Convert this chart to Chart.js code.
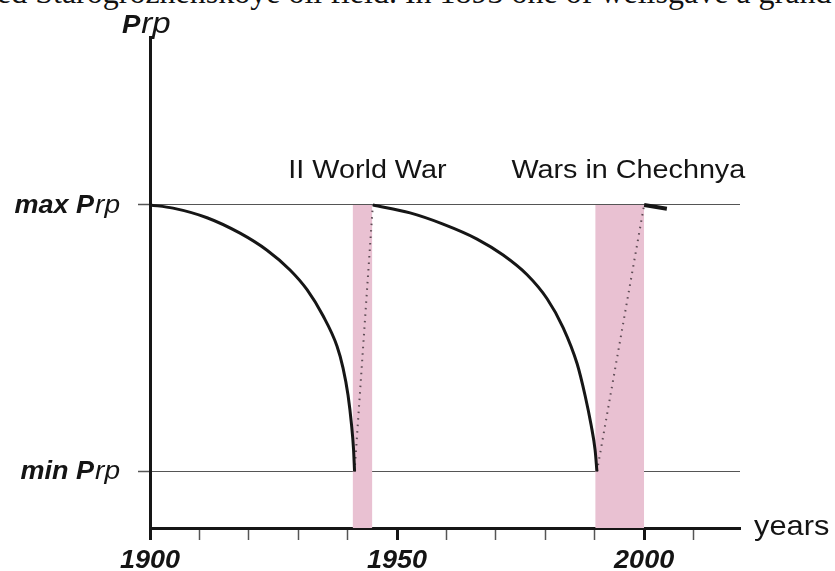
<!DOCTYPE html>
<html>
<head>
<meta charset="utf-8">
<title>Prp</title>
<script src="https://cdn.jsdelivr.net/npm/chart.js@4.4.0/dist/chart.umd.min.js"></script>
<style>
	html, body { margin: 0; padding: 0; background: #fff; overflow: hidden; }
	#wrap { position: relative; width: 835px; height: 571px; overflow: hidden; }
	#topText {
		position: absolute; left: -3px; top: -24px;
		font-family: 'Liberation Serif', 'Times New Roman', serif;
		font-size: 32px; line-height: 32px; white-space: nowrap; color: #111;
	}
	#chart { position: absolute; left: 0; top: 0; }
</style>
</head>
<body>
<div id="wrap">
	<div id="topText">ed Starogroznenskoye oil field. In 1893 one of wellsgave a grand</div>
	<canvas id="chart" width="835" height="571"></canvas>
</div>
<script>
'use strict';

// *** Data ***
const minP = 1;
const maxP = 6;

const curve1Years = [1900, 1904.66, 1911.54, 1918.22, 1923.68, 1928.34, 1931.78, 1935.02, 1937.85, 1939.07, 1940.08, 1940.79, 1941.19, 1941.4];
const curve1P = [6.0, 5.94, 5.76, 5.47, 5.15, 4.78, 4.41, 3.92, 3.35, 2.94, 2.43, 1.87, 1.42, 1.0];

const curve2Years = [1945.1, 1952.63, 1959.31, 1966.19, 1971.46, 1976.32, 1980.36, 1983.6, 1986.44, 1988.06, 1989.27, 1990.08, 1990.45];
const curve2P = [6.0, 5.85, 5.64, 5.36, 5.06, 4.69, 4.24, 3.70, 3.02, 2.42, 1.87, 1.40, 1.0];

const tailYears = [2000, 2004.6];
const tailP = [6.0, 5.93];

const recovery1Years = [1941.4, 1945.1];
const recovery2Years = [1990.45, 2000];
const recoveryP = [1, 6];

const warNames = ['II World War', 'Wars in Chechnya'];
const warStart = [1941, 1990.1];
const warEnd = [1945, 2000];
const warLabelYear = [1944, 1996.8];

const tickYears = [1900, 1910, 1920, 1930, 1940, 1950, 1960, 1970, 1980, 1990, 2000, 2010];
const labelYears = [1900, 1950, 2000];

const fontFamily = "'Liberation Sans', Arial, sans-serif";

function toPoints(_xs, _ys) {
	return _xs.map((x, i) => ({ x: x, y: _ys[i] }));
}

// text drawn slightly wider than tall, like the scanned figure
function drawText(ctx, text, x, y, font, align, sx) {
	ctx.save();
	ctx.font = font;
	ctx.textAlign = align;
	ctx.textBaseline = 'alphabetic';
	ctx.translate(x, y);
	ctx.scale(sx, 1);
	ctx.fillText(text, 0, 0);
	ctx.restore();
}

function drawPrp(ctx, xLeft, y, mainText, mainFont, subFont, sx) {
	ctx.save();
	ctx.font = mainFont;
	const w1 = ctx.measureText(mainText).width * sx;
	ctx.restore();
	drawText(ctx, mainText, xLeft, y, mainFont, 'left', sx);
	drawText(ctx, 'rp', xLeft + w1 + 1, y, subFont, 'left', sx);
}

function widthPrp(ctx, mainText, mainFont, subFont, sx) {
	ctx.save();
	ctx.font = mainFont;
	let w = ctx.measureText(mainText).width;
	ctx.font = subFont;
	w += ctx.measureText('rp').width;
	ctx.restore();
	return w * sx + 1;
}

const textPlugin = {
	id: 'textPlugin',
	afterDraw(chart) {
		const ctx = chart.ctx;
		const xs = chart.scales.x;
		const ys = chart.scales.y;
		const boldItalic = `italic bold 25px ${fontFamily}`;
		const italic = `italic 26px ${fontFamily}`;
		ctx.fillStyle = '#141414';

		// axis title on top of the y axis
		drawPrp(ctx, xs.left - 28, 33, 'P', `italic bold 25px ${fontFamily}`, `italic 30px ${fontFamily}`, 1.1);

		// max / min labels
		const labelRight = xs.left - 30;
		const wMax = widthPrp(ctx, 'max P', boldItalic, italic, 1.08);
		drawPrp(ctx, labelRight - wMax, ys.getPixelForValue(maxP) + 8, 'max P', boldItalic, italic, 1.08);
		const wMin = widthPrp(ctx, 'min P', boldItalic, italic, 1.08);
		drawPrp(ctx, labelRight - wMin, ys.getPixelForValue(minP) + 8, 'min P', boldItalic, italic, 1.08);

		// year labels under the axis
		labelYears.forEach((yr) => {
			drawText(ctx, String(yr), xs.getPixelForValue(yr), xs.top + 40, boldItalic, 'center', 1.08);
		});

		// axis name
		drawText(ctx, 'years', xs.right + 14, xs.top + 7, `28px ${fontFamily}`, 'left', 1.1);

		// war captions
		warNames.forEach((name, i) => {
			drawText(ctx, name, xs.getPixelForValue(warLabelYear[i]), ys.getPixelForValue(maxP) - 27, `25px ${fontFamily}`, 'center', 1.15);
		});
	}
};

function prepareDataSets() {
	let aryDataSets = [];
	aryDataSets.push({
		label: 'Prp 1900-1941',
		data: toPoints(curve1Years, curve1P),
		borderColor: '#161616',
		borderWidth: 3,
		cubicInterpolationMode: 'monotone',
		order: 1,
	});
	aryDataSets.push({
		label: 'Prp 1945-1990',
		data: toPoints(curve2Years, curve2P),
		borderColor: '#161616',
		borderWidth: 3,
		cubicInterpolationMode: 'monotone',
		order: 1,
	});
	aryDataSets.push({
		label: 'Prp after 2000',
		data: toPoints(tailYears, tailP),
		borderColor: '#161616',
		borderWidth: 4,
		order: 1,
	});
	[recovery1Years, recovery2Years].forEach((yrs, i) => {
		aryDataSets.push({
			label: 'recovery ' + (i + 1),
			data: toPoints(yrs, recoveryP),
			borderColor: '#5e4c55',
			borderWidth: 2,
			borderDash: [1.5, 5],
			order: 2,
		});
	});
	warNames.forEach((name, i) => {
		aryDataSets.push({
			label: name,
			data: toPoints([warStart[i], warEnd[i]], [maxP, maxP]),
			borderWidth: 0,
			borderColor: 'rgba(0,0,0,0)',
			backgroundColor: '#e9c1d2',
			fill: 'start',
			order: 5,
		});
	});
	return aryDataSets;
}

function prepareOptions() {
	return {
		responsive: false,
		animation: false,
		layout: { padding: { top: 37, right: 95, left: 0, bottom: 0 } },
		plugins: {
			legend: { display: false },
			tooltip: { enabled: false },
		},
		elements: { point: { radius: 0 }, line: { tension: 0 } },
		scales: {
			x: {
				type: 'linear',
				min: 1900,
				max: 2019.4,
				z: 1,
				afterBuildTicks: (scale) => { scale.ticks = tickYears.map((v) => ({ value: v })); },
				afterFit: (scale) => { scale.height = 43; },
				ticks: { display: false },
				grid: {
					drawOnChartArea: false,
					drawTicks: true,
					tickLength: 12,
					tickColor: (c) => (labelYears.includes(c.tick && c.tick.value) ? '#161616' : '#555'),
					tickWidth: (c) => (labelYears.includes(c.tick && c.tick.value) ? 3 : 1.5),
				},
				border: { color: '#161616', width: 3 },
			},
			y: {
				type: 'linear',
				min: -0.06,
				max: 9.15,
				z: 1,
				afterBuildTicks: (scale) => { scale.ticks = [minP, maxP].map((v) => ({ value: v })); },
				afterFit: (scale) => { scale.width = 150; },
				ticks: { display: false },
				grid: {
					color: '#555',
					lineWidth: 1,
					borderDash: [1.5, 3],
					tickLength: 12,
					tickColor: '#555',
					tickWidth: 1.5,
					tickBorderDash: [],
				},
				border: { color: '#161616', width: 3 },
			},
		},
	};
}

// *** Entry Point ***
new Chart(document.getElementById('chart'), {
	type: 'line',
	data: { datasets: prepareDataSets() },
	options: prepareOptions(),
	plugins: [textPlugin],
});
</script>
</body>
</html>
